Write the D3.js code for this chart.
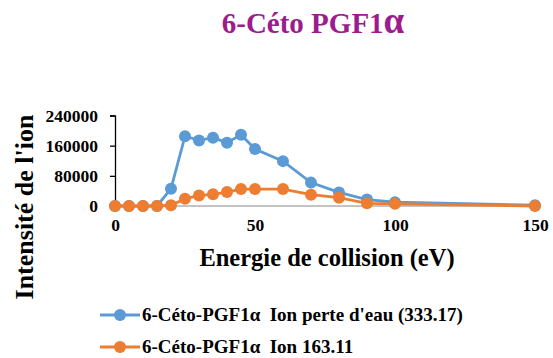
<!DOCTYPE html>
<html>
<head>
<meta charset="utf-8">
<script src="https://cdn.jsdelivr.net/npm/d3@7"></script>
<style>
  body { margin: 0; background: #fff; }
  text { font-family: "Liberation Serif", "Times New Roman", serif; font-weight: bold; white-space: pre; }
</style>
</head>
<body>
<div id="app"></div>
<script>
  const energies = [0, 5, 10, 15, 20, 25, 30, 35, 40, 45, 50, 60, 70, 80, 90, 100, 150]
  const waterLoss = [0, 0, 0, 0, 46000, 185000, 174000, 181000, 168000, 189000, 151000, 119000, 62000, 36000, 17000, 10000, 2000]
  const ion163 = [0, 0, 0, 0, 2000, 19000, 28000, 31000, 37000, 45000, 45000, 45000, 30000, 22000, 7000, 6000, 0]
  const yTicks = [0, 80000, 160000, 240000]
  const xTicks = [0, 50, 100, 150]
  const seriesNames = ['6-Céto-PGF1\u03b1  Ion perte d\'eau (333.17)', '6-Céto-PGF1\u03b1  Ion 163.11']
  const colors = ['#5b9bd5', '#ed7d31']

  const w = 553, h = 358
  const svg = d3.select('#app').append('svg').attr('width', w).attr('height', h)

  const x = d3.scaleLinear().domain([0, 150]).range([115, 535])
  const y = d3.scaleLinear().domain([0, 240000]).range([206, 115.5])

  const title = svg.append('text')
    .attr('x', 313).attr('y', 33)
    .attr('text-anchor', 'middle')
    .attr('fill', '#9b1d8d')
    .style('font-size', '29px')
  title.append('tspan').text('6-Céto PGF1')
  title.append('tspan').style('font-size', '37px').text('\u03b1')

  // x axis baseline
  svg.append('line')
    .attr('x1', x(0)).attr('x2', x(150))
    .attr('y1', y(0)).attr('y2', y(0))
    .attr('stroke', '#888').attr('stroke-width', 1)

  const yAxis = svg.append('g')
    .attr('transform', 'translate(' + x(0) + ',0)')
    .call(d3.axisLeft(y).tickValues(yTicks).tickSize(5).tickPadding(12).tickFormat(d3.format('d')))
  yAxis.select('.domain').attr('stroke', '#000').attr('stroke-width', 1.3)
  yAxis.selectAll('.tick line').attr('stroke', '#000').attr('stroke-width', 1.3)
  yAxis.selectAll('text').style('font-size', '17.5px').attr('fill', '#000')

  const xAxis = svg.append('g')
    .attr('transform', 'translate(0,' + y(0) + ')')
    .call(d3.axisBottom(x).tickValues(xTicks).tickSize(0).tickPadding(13))
  xAxis.select('.domain').remove()
  xAxis.selectAll('text').style('font-size', '17.5px').attr('fill', '#000')

  svg.append('text')
    .attr('x', 327).attr('y', 266)
    .attr('text-anchor', 'middle')
    .style('font-size', '24.5px')
    .text('Energie de collision (eV)')

  svg.append('text')
    .attr('transform', 'translate(33,207) rotate(-90)')
    .attr('text-anchor', 'middle')
    .style('font-size', '26px')
    .text('Intensité de l\'ion')

  const line = d3.line().x(d => x(d[0])).y(d => y(d[1]))
  const allSeries = [waterLoss, ion163]

  allSeries.forEach(function (vals, i) {
    const pts = energies.map((e, j) => [e, vals[j]])
    const g = svg.append('g')
    g.append('path')
      .attr('d', line(pts))
      .attr('fill', 'none')
      .attr('stroke', colors[i])
      .attr('stroke-width', 2.8)
    g.selectAll('circle')
      .data(pts)
      .enter()
      .append('circle')
      .attr('cx', d => x(d[0]))
      .attr('cy', d => y(d[1]))
      .attr('r', 6)
      .attr('fill', colors[i])
  })

  const legend = svg.append('g')
  seriesNames.forEach(function (name, i) {
    const ly = 315 + i * 32
    legend.append('line')
      .attr('x1', 100).attr('x2', 140)
      .attr('y1', ly).attr('y2', ly)
      .attr('stroke', colors[i]).attr('stroke-width', 2.8)
    legend.append('circle')
      .attr('cx', 120).attr('cy', ly).attr('r', 6)
      .attr('fill', colors[i])
    legend.append('text')
      .attr('x', 142).attr('y', ly + 6)
      .style('font-size', '19px')
      .text(name)
  })
</script>
</body>
</html>
